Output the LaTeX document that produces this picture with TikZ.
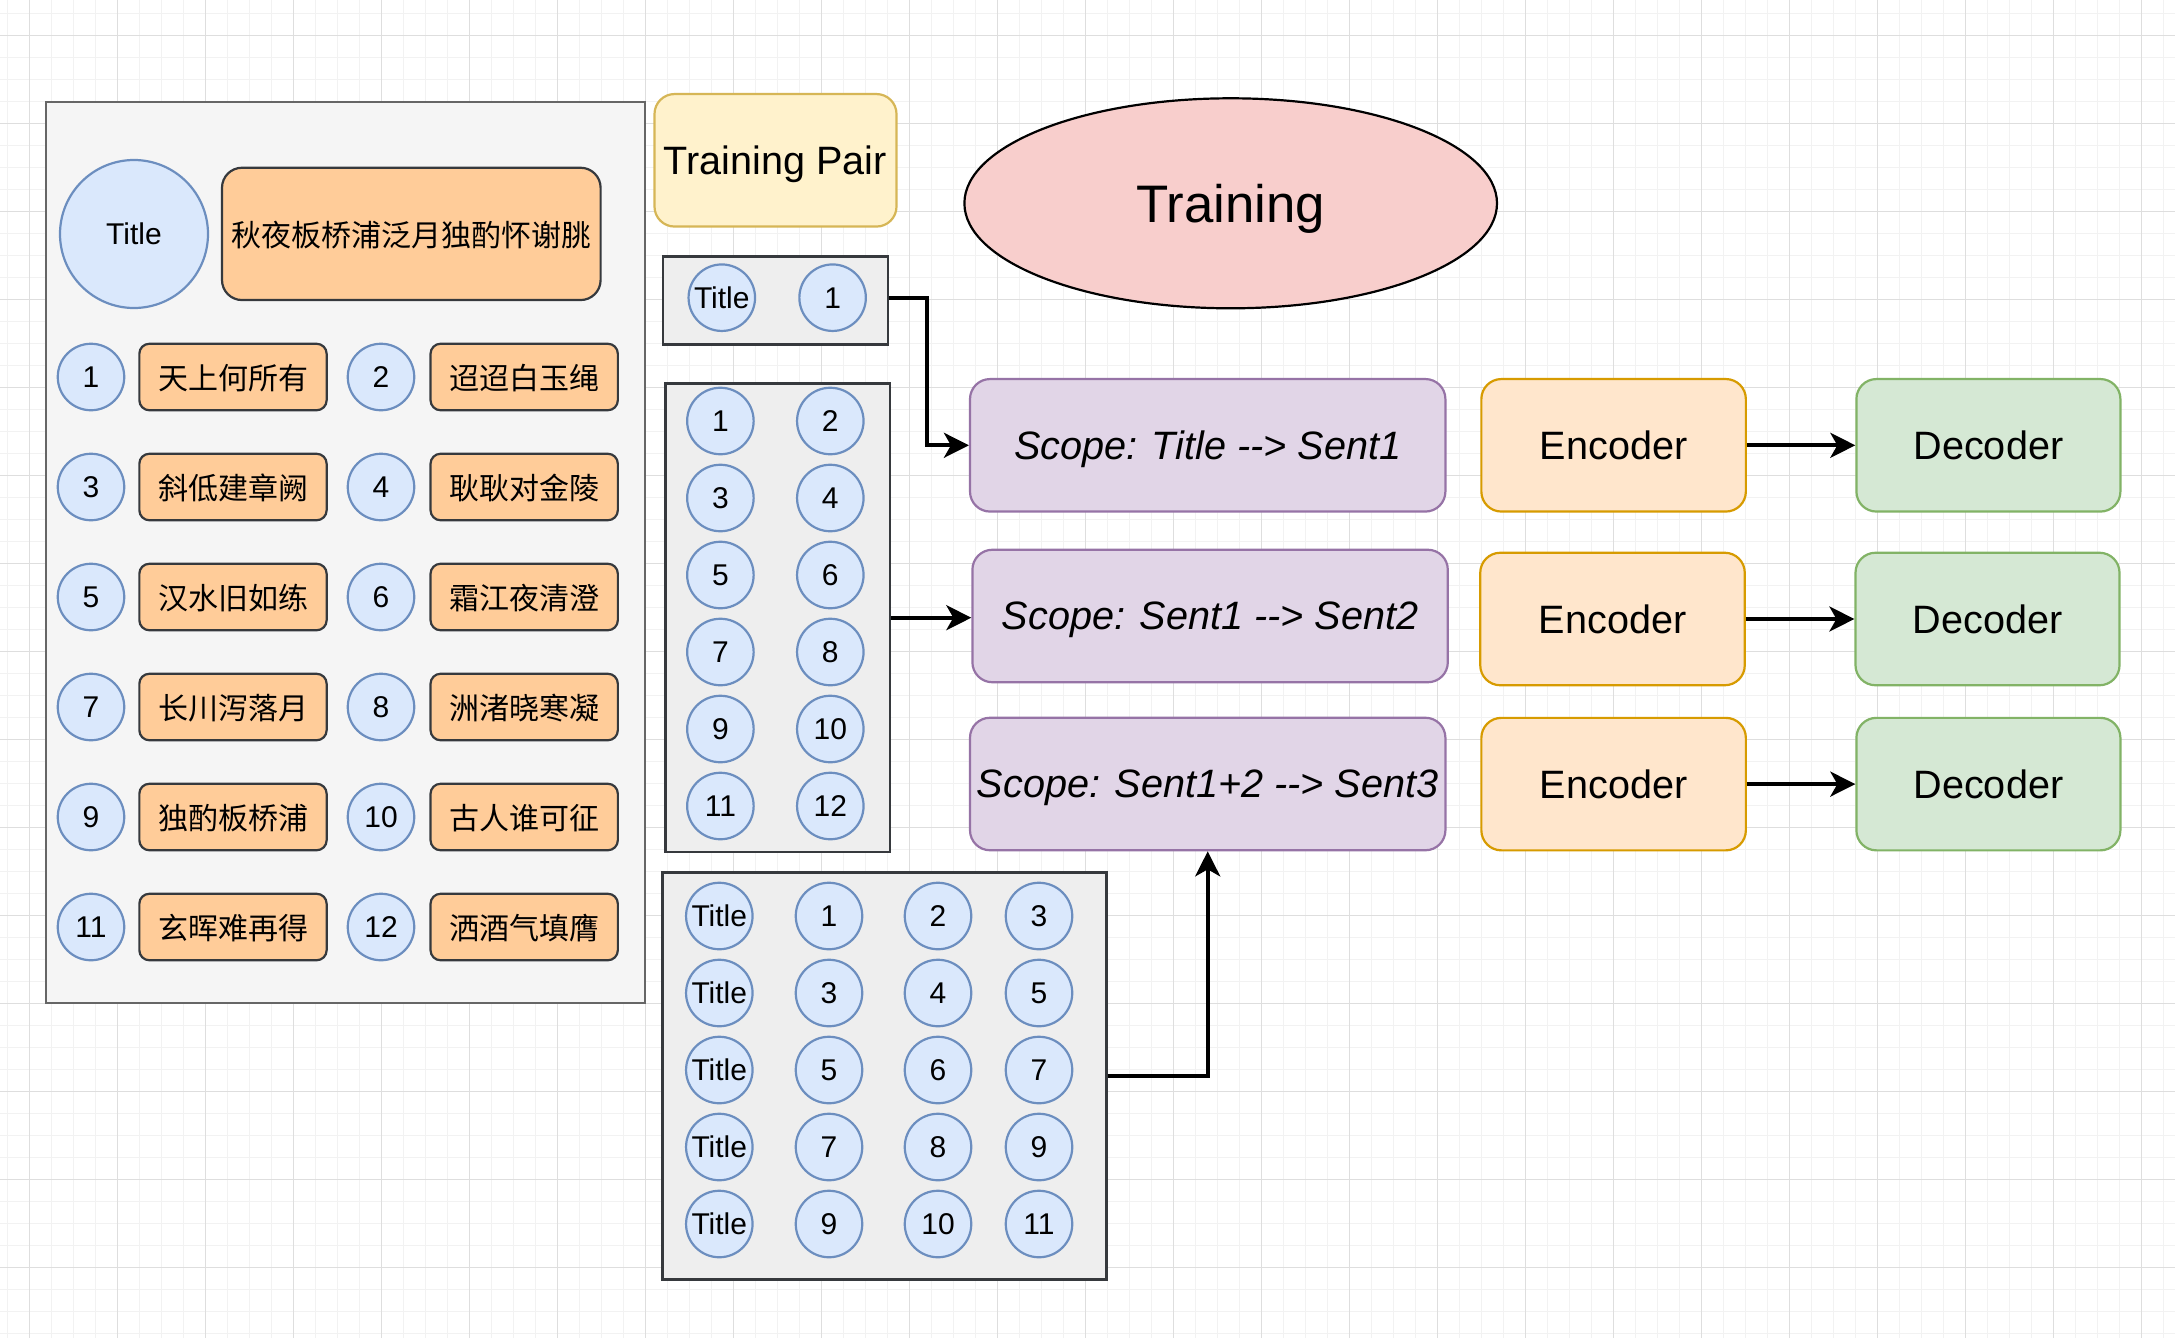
\documentclass[tikz,border=0pt]{standalone}
\usepackage{fontspec}
\setmainfont{Liberation Sans}
\newfontfamily\cjk{Noto Sans CJK SC}
\usetikzlibrary{arrows.meta,shapes.geometric}
\definecolor{gmin}{HTML}{F2F2F2}
\definecolor{gmaj}{HTML}{DEDEDE}
\definecolor{panelfill}{HTML}{F5F5F5}
\definecolor{panelline}{HTML}{666666}
\definecolor{grpfill}{HTML}{EEEEEE}
\definecolor{darkline}{HTML}{36393D}
\definecolor{bluefill}{HTML}{DAE8FC}
\definecolor{blueline}{HTML}{6C8EBF}
\definecolor{orfill}{HTML}{FFCC99}
\definecolor{yelfill}{HTML}{FFF2CC}
\definecolor{yelline}{HTML}{D6B656}
\definecolor{redfill}{HTML}{F8CECC}
\definecolor{purfill}{HTML}{E1D5E7}
\definecolor{purline}{HTML}{9673A6}
\definecolor{encfill}{HTML}{FFE6CC}
\definecolor{encline}{HTML}{D79B00}
\definecolor{decfill}{HTML}{D5E8D4}
\definecolor{decline}{HTML}{82B366}
\newcommand\fsA{\fontsize{30}{36}\selectfont}
\newcommand\fsB{\fontsize{39.6}{46}\selectfont}
\newcommand\fsC{\fontsize{52.8}{60}\selectfont}
\begin{document}
\begin{tikzpicture}[x=1pt,y=-1pt,
  every node/.style={text depth=0pt},
  gridminor/.style={draw=gmin,line width=1.5pt},
  gridmajor/.style={draw=gmaj,line width=1.5pt},
  panel/.style={rectangle,draw=panelline,fill=panelfill,line width=2.2pt,inner sep=0pt},
  grp/.style={rectangle,draw=darkline,fill=grpfill,line width=2.4pt,inner sep=0pt},
  circ/.style={circle,draw=blueline,fill=bluefill,line width=2.2pt,inner sep=0pt,minimum size=66.5pt,font=\fsA},
  cjkbox/.style={rectangle,rounded corners=10pt,draw=darkline,fill=orfill,line width=2.2pt,inner sep=0pt,minimum width=187.3pt,minimum height=66.5pt,font={\cjk\fsA}},
  bigbox/.style={rectangle,rounded corners=20pt,line width=2.2pt,inner sep=0pt,minimum height=132.5pt,font=\fsB},
  scopebox/.style={bigbox,draw=purline,fill=purfill,minimum width=475.4pt,font={\fsB\itshape}},
  encbox/.style={bigbox,draw=encline,fill=encfill,minimum width=264.5pt},
  decbox/.style={bigbox,draw=decline,fill=decfill,minimum width=264pt},
  arr/.style={draw=black,line width=3.8pt,-{Stealth[length=25pt,width=25pt,inset=7pt]}}
]
\useasboundingbox (0,0) rectangle (2175,1338);
\fill[white] (0,0) rectangle (2175,1338);
% grid
\foreach \i in {0,...,98} {\draw[gridminor] ({7.3+22*\i},0) -- ({7.3+22*\i},1338);}
\foreach \j in {0,...,60} {\draw[gridminor] (0,{13.3+22*\j}) -- (2175,{13.3+22*\j});}
\foreach \i in {0,...,24} {\draw[gridmajor] ({29.3+88*\i},0) -- ({29.3+88*\i},1338);}
\foreach \j in {0,...,14} {\draw[gridmajor] (0,{35.3+88*\j}) -- (2175,{35.3+88*\j});}

% left panel
\node[panel,minimum width=599pt,minimum height=901pt] (panel) at (345.5,552.5) {};
\node[circ,minimum size=148pt] (ptitle) at (134,234) {Title};
\node[cjkbox,rounded corners=20pt,minimum width=378.6pt,minimum height=132.3pt] (ptitletext) at (411.3,233.9) {秋夜板桥浦泛月独酌怀谢朓};
\foreach \a/\ta/\b/\tb [count=\k from 0] in {1/天上何所有/2/迢迢白玉绳, 3/斜低建章阙/4/耿耿对金陵, 5/汉水旧如练/6/霜江夜清澄, 7/长川泻落月/8/洲渚晓寒凝, 9/独酌板桥浦/10/古人谁可征, 11/玄晖难再得/12/洒酒气填膺} {
  \node[circ] (p\a) at (91,{377+110*\k}) {\a};
  \node[cjkbox] (t\a) at (233,{377+110*\k}) {\ta};
  \node[circ] (p\b) at (381,{377+110*\k}) {\b};
  \node[cjkbox] (t\b) at (524.2,{377+110*\k}) {\tb};
}

% training pair label and training ellipse
\node[bigbox,draw=yelline,fill=yelfill,minimum width=242pt] (tpair) at (775.5,160.3) {Training Pair};
\node[ellipse,draw=black,fill=redfill,line width=2.2pt,inner sep=0pt,minimum width=532.6pt,minimum height=210pt,font=\fsC] (training) at (1230.7,203.3) {Training};

% group A
\node[grp,minimum width=225pt,minimum height=88pt] (grpA) at (775.5,300.3) {};
\node[circ] (aT) at (721.8,297.7) {Title};
\node[circ] (a1) at (832.6,297.7) {1};

% group B
\node[grp,minimum width=224.5pt,minimum height=468.5pt] (grpB) at (777.8,617.7) {};
\foreach \a/\b [count=\k from 0] in {1/2,3/4,5/6,7/8,9/10,11/12} {
  \node[circ] (b\a) at (720.4,{421+77*\k}) {\a};
  \node[circ] (b\b) at (830.3,{421+77*\k}) {\b};
}

% group C
\node[grp,minimum width=444pt,minimum height=407pt] (grpC) at (884.5,1075.8) {};
\foreach \x/\y/\z [count=\k from 0] in {1/2/3,3/4/5,5/6/7,7/8/9,9/10/11} {
  \node[circ] (cT\k) at (719.3,{916+77*\k}) {Title};
  \node[circ] (cx\k) at (829,{916+77*\k}) {\x};
  \node[circ] (cy\k) at (938,{916+77*\k}) {\y};
  \node[circ] (cz\k) at (1039,{916+77*\k}) {\z};
}

% scope boxes
\node[scopebox] (scope1) at (1207.7,445.3) {Scope: Title \mbox{-}\mbox{-}> Sent1};
\node[scopebox] (scope2) at (1210.1,616) {Scope: Sent1 \mbox{-}\mbox{-}> Sent2};
\node[scopebox] (scope3) at (1207.7,784) {Scope: Sent1+2 \mbox{-}\mbox{-}> Sent3};

% encoders and decoders
\node[encbox] (enc1) at (1613.6,445.3) {Encoder};
\node[decbox] (dec1) at (1988.4,445.3) {Decoder};
\node[encbox] (enc2) at (1612.5,619) {Encoder};
\node[decbox] (dec2) at (1987.5,619) {Decoder};
\node[encbox] (enc3) at (1613.6,784.1) {Encoder};
\node[decbox] (dec3) at (1988.4,784.1) {Decoder};

% connectors
\draw[arr] (grpA.east |- a1) -- ++(37.5,0) |- (scope1.west);
\draw[arr] (grpB.east) -- (grpB.east -| scope2.west);
\draw[arr] (grpC.east) -| (scope3.south);
\draw[arr] (enc1.east) -- (dec1.west);
\draw[arr] (enc2.east) -- (dec2.west);
\draw[arr] (enc3.east) -- (dec3.west);
\end{tikzpicture}
\end{document}
